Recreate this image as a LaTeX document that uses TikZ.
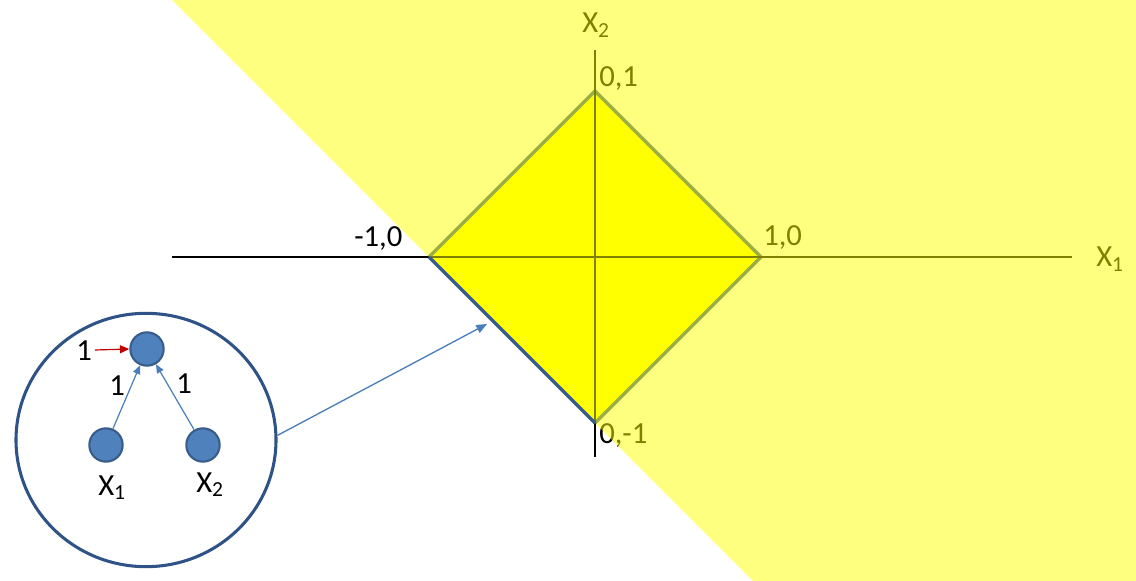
\documentclass[tikz,border=0pt]{standalone}
\usepackage{fontspec}
\setmainfont{Carlito}
\usetikzlibrary{arrows.meta,shapes.geometric}
\definecolor{edgeblue}{RGB}{56,93,138}
\definecolor{nodefill}{RGB}{79,129,189}
\definecolor{arrblue}{RGB}{74,126,187}
\definecolor{darkred}{RGB}{192,0,0}
\definecolor{ringblue}{RGB}{47,82,135}
\definecolor{pureyellow}{RGB}{255,255,0}
\tikzset{
  lbl/.style={inner sep=0pt, anchor=base west, font=\fontsize{23pt}{27pt}\selectfont},
  neuron/.style={circle, draw=edgeblue, fill=nodefill, line width=1.6pt, minimum size=25pt, inner sep=0pt},
  axisline/.style={line width=1.5pt, black},
  thinarrow/.style={arrblue, line width=0.9pt, -{Triangle[length=6.5pt,width=5.5pt]}},
}
\begin{document}
\begin{tikzpicture}[x=0.75pt,y=-0.75pt]
\useasboundingbox (0,0) rectangle (1136,581);
% diamond
\coordinate (L) at (429,257);
\coordinate (T) at (595,91);
\coordinate (R) at (761,257);
\coordinate (B) at (595,423);
\fill[pureyellow] (L) -- (T) -- (R) -- (B) -- cycle;
\draw[edgeblue, line width=2.6pt, line join=miter] (L) -- (T) -- (R) -- (B);
% axes
\coordinate (xa) at (172,257);
\coordinate (xb) at (1072,257);
\coordinate (ya) at (595,50);
\coordinate (yb) at (595,457);
\draw[axisline] (xa) -- (xb);
\draw[axisline] (ya) -- (yb);
% labels
\node[lbl] (lx2) at (582,33) {X\textsubscript{2}};
\node[lbl] (l01) at (599,87) {0,1};
\node[lbl] (lm10) at (354,247) {-1,0};
\node[lbl] (l10) at (763,246) {1,0};
\node[lbl] (lx1) at (1096,267) {X\textsubscript{1}};
\node[lbl] (l0m1) at (599,443) {0,-1};
% half-plane overlay
\fill[pureyellow, opacity=0.5] (172,0) -- (1136,0) -- (1136,581) -- (753,581) -- cycle;
% lower-left edge on top
\draw[edgeblue, line width=2.6pt] (L) -- (B);
% inset
\node[ellipse, draw=ringblue, line width=2.3pt, minimum width=195pt, minimum height=190pt, inner sep=0pt] (inset) at (146,440) {};
\node[neuron] (top) at (147,349) {};
\node[neuron] (in1) at (106,445) {};
\node[neuron] (in2) at (203,445) {};
\draw[thinarrow] (in1) -- (top);
\draw[thinarrow] (in2) -- (top);
\node[lbl] (bias) at (76,360) {1};
\draw[darkred, line width=0.9pt, -{Triangle[length=7pt,width=6pt]}] (95,350) -- (top.west);
\node[lbl] (w1) at (109,395) {1};
\node[lbl] (w2) at (176,393) {1};
\node[lbl] (nx1) at (98,495) {X\textsubscript{1}};
\node[lbl] (nx2) at (196,492) {X\textsubscript{2}};
% pointer arrow
\coordinate (tgt) at (487,324);
\draw[arrblue, line width=1pt, -{Triangle[length=8pt,width=6.5pt]}] (inset.2) -- (tgt);
\end{tikzpicture}
\end{document}
